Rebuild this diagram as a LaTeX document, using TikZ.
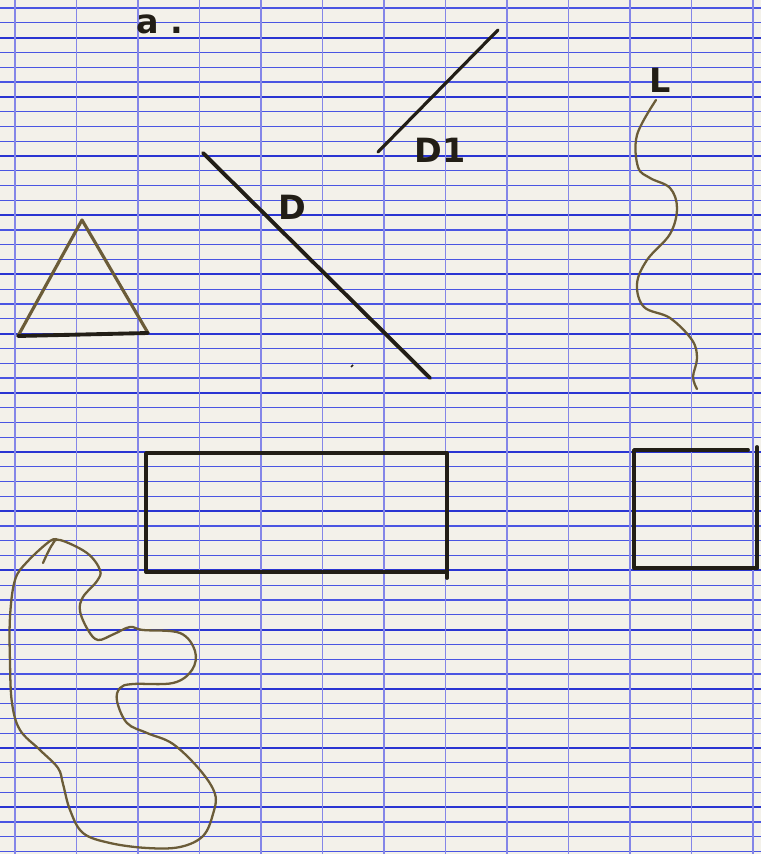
\documentclass[tikz,border=0pt]{standalone}
\usepackage{fontspec}
\setsansfont{DejaVu Sans}
\definecolor{paper}{HTML}{F3F1EA}
\definecolor{rule}{HTML}{4A55E2}
\definecolor{rulebold}{HTML}{2A35D2}
\definecolor{vrule}{HTML}{8486E8}
\definecolor{pencil}{HTML}{6B5C38}
\definecolor{ink}{HTML}{221E16}
\tikzset{
  pen/.style={ink,line width=2.2pt,line cap=round,line join=round},
  wobble/.style={pencil,line width=1.3pt,line cap=round,smooth,tension=0.6},
  hand/.style={ink,font=\sffamily\bfseries\fontsize{19}{22}\selectfont,inner sep=0pt}
}
\begin{document}
\begin{tikzpicture}[x=0.02cm,y=-0.02cm]
            \fill[paper] (0,0) rectangle (761,854);
            \useasboundingbox (0,0) rectangle (761,854);
            % ruled paper
            \foreach \j in {0,...,57} {
              \pgfmathtruncatemacro{\rk}{mod(\j,4)}
              \ifnum\rk=2
                \draw[rulebold,line width=1.2pt] (0,8+14.8*\j) -- (761,8+14.8*\j);
              \else
                \draw[rule,line width=0.75pt] (0,8+14.8*\j) -- (761,8+14.8*\j);
              \fi
            }
            \foreach \k in {0,...,12}
              \draw[vrule,line width=0.7pt] (15+61.5*\k,0) -- (15+61.5*\k,854);

            \node[hand] (title) at (160,24) {a .};

            % triangle
            \coordinate (T1) at (82,220);
            \coordinate (T2) at (18,336);
            \coordinate (T3) at (148,333);
            \draw[pencil,line width=1.8pt,line join=round] (T2)--(T1)--(T3);
            \draw[pen] (T2)--(T3);

            % line D
            \coordinate (D0) at (203,153);
            \coordinate (D9) at (430,378);
            \draw[pen] (D0)--(D9);
            \node[hand] (labD) at (292,207) {D};
            \draw[ink,line width=1pt] (351,367) -- (353,365);

            % line D1
            \coordinate (E0) at (378,152);
            \coordinate (E9) at (498,30);
            \draw[pen,line width=1.8pt] (E0)--(E9);
            \node[hand] (labE) at (440,150) {D1};

            % curve L
            \node[hand] (labL) at (660,80) {L};
            \draw[wobble] plot coordinates {(656,100) (637,135) (638,167) (650,178)
              (670,188) (677,208) (670,234) (647,260) (637,284) (644,307) (670,318)
              (692,340) (697,358) (693,377) (697,389)};

            % rectangle
            \coordinate (R1) at (146,453);
            \coordinate (R2) at (447,453);
            \coordinate (R3) at (447,572);
            \coordinate (R4) at (146,572);
            \draw[pen] (R3)--(R4)--(R1)--(R2)--(R3);
            \draw[pen] (R3)--(447,578);

            % square, cut at the edge
            \coordinate (S1) at (634,450);
            \coordinate (S2) at (748,450);
            \coordinate (S3) at (757,568);
            \coordinate (S4) at (634,568);
            \draw[pen] (S2)--(S1)--(S4)--(S3);
            \draw[pen] (757,447)--(S3);

            % closed blob
            \draw[wobble] plot coordinates {(43,563) (52,545) (60,540) (87,553)
              (100,570) (97,581) (83,597) (80,611) (88,630) (98,640) (114,634)
              (130,627) (143,630) (180,633) (195,651) (192,670) (173,683) (133,684)
              (120,688) (117,701) (127,723) (147,733) (173,744) (200,770) (215,794)
              (213,814) (203,836) (180,847) (147,848) (110,843) (83,833) (70,810)
              (63,784) (58,768) (40,750) (20,730) (12,703) (10,663) (10,617)
              (15,580) (27,562) (50,541) (58,540)};
        \end{tikzpicture}
\end{document}
